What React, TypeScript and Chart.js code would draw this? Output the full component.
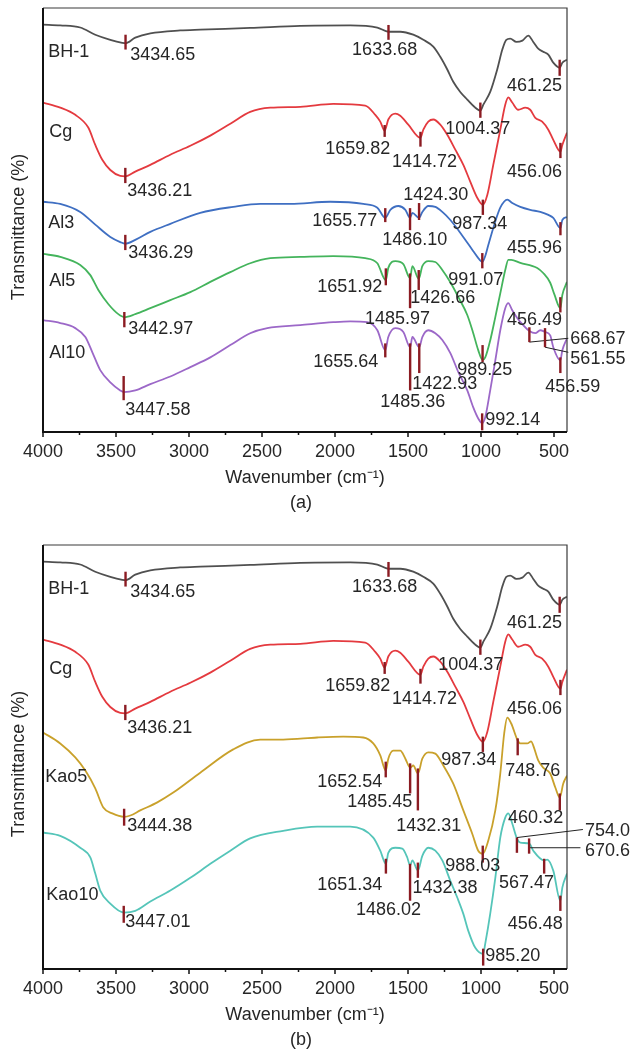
import React, { useEffect, useRef } from 'react';
import { Chart, registerables } from 'chart.js';

Chart.register(...registerables);
Chart.defaults.font.family = '"Liberation Sans", Arial, sans-serif';

// ---------------- axis ----------------
const WN_MAX = 4000;
const WN_MIN = 411;
const WN_MAJOR = [500, 1000, 1500, 2000, 2500, 3000, 3500, 4000];
const WN_MINOR = [750, 1250, 1750, 2250, 2750, 3250, 3750];
const X_TITLE = 'Wavenumber (cm\u207B\u00B9)';
const Y_TITLE = 'Transmittance (%)';

// ---------------- spectra: [wavenumber, transmittance (offset, a.u.)] ----------------
const BH1 = [[4000,96.1],[3882,95.9],[3745,95.4],[3642,93.7],[3539,92.5],[3457,91.8],[3434.65,91.7],[3368,93.0],[3265,94.0],[3060,94.7],[2923,94.9],[2581,95.3],[2238,95.8],[1896,95.9],[1710,95.4],[1633.68,94.4],[1553,94.4],[1464,93.7],[1395,92.5],[1327,90.9],[1279,88.5],[1231,85.5],[1190,82.6],[1142,80.2],[1094,78.4],[1046,76.7],[1004.37,75.8],[984,77.2],[937,80.2],[889,85.5],[854,90.2],[827,92.5],[800,92.8],[758,92.0],[717,92.3],[676,93.5],[642,92.0],[608,90.4],[574,89.7],[539,89.0],[505,87.1],[461.25,85.9],[443,87.1],[411,87.8]];
const CG = [[4000,77.7],[3882,76.5],[3779,74.8],[3690,71.8],[3642,67.7],[3594,64.2],[3539,61.8],[3471,60.4],[3436.21,60.3],[3368,61.4],[3265,63.0],[3128,65.4],[2991,67.5],[2854,69.9],[2717,72.7],[2581,75.5],[2443,76.5],[2238,76.7],[2012,77.4],[1793,77.0],[1724,74.8],[1690,73.2],[1659.82,71.1],[1635,73.7],[1587,75.1],[1553,74.6],[1498,72.5],[1414.72,69.4],[1395,71.3],[1361,73.2],[1327,73.7],[1279,72.5],[1231,70.1],[1176,66.6],[1121,63.0],[1073,59.0],[1025,55.2],[987.34,53.6],[957,55.9],[916,63.0],[868,71.3],[834,77.2],[813,78.9],[786,77.7],[745,76.0],[697,76.5],[663,76.0],[628,74.1],[581,73.2],[539,71.3],[505,68.9],[456.06,66.1],[443,67.7],[411,70.6]];
const AL3 = [[4000,54.3],[3882,53.8],[3745,51.9],[3642,48.9],[3539,46.0],[3471,44.8],[3436.29,44.4],[3368,45.3],[3265,47.2],[3128,49.1],[2923,51.7],[2697,53.1],[2512,53.8],[2306,53.8],[2033,54.3],[1806,53.8],[1710,52.9],[1655.77,50.5],[1621,52.4],[1566,53.3],[1518,52.4],[1486.10,50.5],[1470,51.7],[1424.30,50.5],[1402,51.9],[1361,53.3],[1313,53.1],[1265,51.9],[1210,50.0],[1155,47.6],[1107,45.3],[1060,43.0],[1025,41.3],[991.07,40.1],[971,41.5],[950,44.1],[909,48.9],[868,52.9],[820,54.8],[786,54.0],[731,53.1],[663,52.4],[594,51.9],[539,51.2],[505,50.5],[455.96,48.1],[443,50.0],[411,50.7]];
const AL5 = [[4000,42.0],[3882,41.3],[3745,39.4],[3676,37.0],[3621,33.5],[3553,30.2],[3484,27.8],[3442.97,27.1],[3368,27.8],[3265,29.2],[3128,31.1],[2991,33.0],[2854,35.4],[2717,37.7],[2581,39.8],[2443,41.0],[2238,41.3],[2012,41.5],[1793,41.0],[1710,39.8],[1651.92,35.8],[1635,38.7],[1587,40.3],[1532,39.6],[1485.97,36.3],[1470,39.1],[1426.66,36.1],[1402,39.1],[1361,40.3],[1313,40.1],[1265,38.2],[1210,35.3],[1155,31.8],[1094,27.6],[1053,23.3],[1019,19.3],[989.25,17.0],[971,17.6],[937,21.6],[902,27.1],[868,32.7],[834,38.2],[813,40.6],[793,40.6],[731,39.9],[615,38.7],[574,37.5],[526,35.2],[498,32.5],[456.49,29.2],[443,32.3],[411,35.4]];
const AL10 = [[4000,26.4],[3882,25.7],[3779,24.5],[3710,22.4],[3662,18.8],[3608,14.6],[3539,11.7],[3471,9.8],[3447.58,9.4],[3368,9.8],[3265,11.3],[3128,13.1],[2991,15.3],[2854,17.6],[2717,20.5],[2581,23.3],[2464,24.5],[2238,25.2],[2012,25.9],[1896,26.1],[1779,25.9],[1710,24.0],[1655.64,19.3],[1635,22.4],[1587,24.5],[1532,23.6],[1485.36,20.0],[1470,22.4],[1422.93,20.0],[1402,22.4],[1361,24.0],[1313,23.3],[1265,21.7],[1210,18.6],[1155,14.1],[1094,9.8],[1053,5.8],[1019,3.2],[992.14,2.1],[971,3.5],[937,9.8],[902,16.9],[868,24.0],[834,29.2],[813,30.4],[786,28.7],[752,26.9],[711,25.2],[668.67,23.8],[628,23.3],[594,24.0],[561.55,23.6],[526,22.8],[505,20.0],[456.59,16.9],[443,19.3],[411,22.1]];
const KAO5 = [[4000,55.8],[3882,53.2],[3779,49.9],[3710,46.8],[3642,42.6],[3587,38.1],[3525,36.7],[3444.38,35.9],[3402,36.2],[3334,37.4],[3217,39.3],[3108,41.6],[2923,46.3],[2697,51.8],[2512,54.1],[2355,54.1],[2122,54.6],[1944,54.8],[1806,54.6],[1738,53.2],[1690,50.4],[1652.54,46.8],[1635,49.6],[1601,51.5],[1553,51.5],[1518,49.6],[1485.45,47.5],[1464,48.0],[1432.31,46.1],[1402,49.6],[1361,51.1],[1313,50.8],[1258,48.0],[1190,43.7],[1121,37.4],[1060,31.9],[1019,27.9],[988.03,27.2],[950,30.3],[902,37.4],[868,46.1],[841,55.6],[820,59.3],[793,57.9],[748.76,53.9],[731,53.2],[683,53.2],[656,53.7],[642,52.7],[608,49.2],[574,47.5],[526,46.1],[491,42.8],[460.32,40.4],[437,43.7],[411,45.6]];
const KAO10 = [[4000,32.2],[3882,31.4],[3745,28.6],[3676,26.3],[3642,22.5],[3608,18.5],[3539,15.4],[3447.01,13.3],[3368,13.7],[3265,15.9],[3128,18.5],[2991,21.5],[2854,24.8],[2717,27.9],[2581,30.8],[2355,32.6],[2122,33.6],[1896,33.6],[1738,31.0],[1690,27.9],[1651.34,24.8],[1635,27.4],[1587,28.6],[1539,28.4],[1505,26.3],[1486.02,24.4],[1470,25.6],[1432.38,23.2],[1402,26.7],[1361,28.6],[1313,27.9],[1265,25.6],[1210,20.8],[1162,16.8],[1121,13.0],[1087,9.0],[1039,5.0],[985.20,3.6],[971,6.0],[937,13.0],[902,21.5],[868,31.0],[834,35.7],[813,36.7],[786,34.3],[754,30.8],[731,29.8],[670.6,29.6],[642,27.9],[567.47,25.6],[546,25.8],[505,23.2],[456.48,16.1],[443,19.2],[411,22.5]];

// ---------------- styles ----------------
const COLORS = {
  BH1: '#505050', CG: '#e43a3f', AL3: '#3f6fc2', AL5: '#44b45c', AL10: '#9c68c8',
  KAO5: '#c9a12b', KAO10: '#55c5b9',
};
const MARK_COLOR = '#8b1b22';
const TEXT_COLOR = '#262626';
const FONT = '18px "Liberation Sans", Arial, sans-serif';

// ---------------- annotation layout (peak marks: wn, tick hi/lo, label anchor) ----------------
type Peak = { wn: number; hi: number; lo: number; text: string; tx: number; ty: number; al: CanvasTextAlign; lead?: number[] };
type Name = { text: string; tx: number; ty: number };

const PEAKS_BH1_A: Peak[] = [
  { wn: 3434.65, hi: 93.7, lo: 90.2, text: '3434.65', tx: 3402, ty: 89.0, al: 'left' },
  { wn: 1633.68, hi: 96.0, lo: 92.5, text: '1633.68', tx: 1660, ty: 90.0, al: 'center' },
  { wn: 1004.37, hi: 77.7, lo: 74.1, text: '1004.37', tx: 1022, ty: 71.4, al: 'center' },
  { wn: 461.25, hi: 87.8, lo: 84.0, text: '461.25', tx: 634, ty: 81.5, al: 'center' },
];
const PEAKS_CG_A: Peak[] = [
  { wn: 3436.21, hi: 62.3, lo: 58.7, text: '3436.21', tx: 3423, ty: 56.8, al: 'left' },
  { wn: 1659.82, hi: 72.4, lo: 69.6, text: '1659.82', tx: 1621, ty: 66.7, al: 'right' },
  { wn: 1414.72, hi: 70.8, lo: 67.3, text: '1414.72', tx: 1387, ty: 63.6, al: 'center' },
  { wn: 987.34, hi: 54.8, lo: 51.2, text: '987.34', tx: 1008, ty: 49.0, al: 'center' },
  { wn: 456.06, hi: 68.2, lo: 64.6, text: '456.06', tx: 634, ty: 61.2, al: 'center' },
];
const PEAKS_AL: Peak[] = [
  { wn: 3436.29, hi: 46.5, lo: 42.9, text: '3436.29', tx: 3416, ty: 42.1, al: 'left' },
  { wn: 1655.77, hi: 52.8, lo: 49.5, text: '1655.77', tx: 1710, ty: 49.7, al: 'right' },
  { wn: 1486.10, hi: 52.8, lo: 47.6, text: '1486.10', tx: 1454, ty: 45.3, al: 'center' },
  { wn: 1424.30, hi: 54.0, lo: 50.0, text: '1424.30', tx: 1310, ty: 55.8, al: 'center' },
  { wn: 991.07, hi: 42.2, lo: 38.6, text: '991.07', tx: 1036, ty: 35.8, al: 'center' },
  { wn: 455.96, hi: 49.5, lo: 46.4, text: '455.96', tx: 634, ty: 43.3, al: 'center' },
  { wn: 3442.97, hi: 28.3, lo: 24.7, text: '3442.97', tx: 3416, ty: 24.4, al: 'left' },
  { wn: 1651.92, hi: 38.6, lo: 34.6, text: '1651.92', tx: 1676, ty: 34.1, al: 'right' },
  { wn: 1485.97, hi: 37.4, lo: 29.2, text: '1485.97', tx: 1572, ty: 26.7, al: 'center' },
  { wn: 1426.66, hi: 38.2, lo: 33.5, text: '1426.66', tx: 1262, ty: 31.5, al: 'center' },
  { wn: 989.25, hi: 20.5, lo: 16.5, text: '989.25', tx: 974, ty: 14.7, al: 'center' },
  { wn: 456.49, hi: 31.8, lo: 28.2, text: '456.49', tx: 634, ty: 26.5, al: 'center' },
  { wn: 3447.58, hi: 13.2, lo: 7.5, text: '3447.58', tx: 3436, ty: 5.1, al: 'left' },
  { wn: 1655.64, hi: 20.9, lo: 17.6, text: '1655.64', tx: 1703, ty: 16.5, al: 'right' },
  { wn: 1485.36, hi: 20.9, lo: 9.8, text: '1485.36', tx: 1468, ty: 7.1, al: 'center' },
  { wn: 1422.93, hi: 20.9, lo: 13.9, text: '1422.93', tx: 1248, ty: 11.4, al: 'center' },
  { wn: 992.14, hi: 4.4, lo: 0.4, text: '992.14', tx: 971, ty: 2.8, al: 'left' },
  { wn: 668.67, hi: 24.7, lo: 21.2, text: '668.67', tx: 388, ty: 22.0, al: 'left', lead: [668.67, 21.2, 402, 22.1] },
  { wn: 561.55, hi: 24.5, lo: 20.0, text: '561.55', tx: 388, ty: 17.3, al: 'left', lead: [561.55, 20.0, 402, 18.8] },
  { wn: 456.59, hi: 17.6, lo: 13.9, text: '456.59', tx: 372, ty: 10.7, al: 'center' },
];
const PEAKS_BH1_B: Peak[] = PEAKS_BH1_A.map((p) => (p.wn === 1004.37 ? { ...p, tx: 1070, ty: 71.7 } : p));
const PEAKS_CG_B: Peak[] = PEAKS_CG_A.map((p) => (p.wn === 987.34 ? { ...p, tx: 1084, ty: 49.3 } : p));
const PEAKS_KAO: Peak[] = [
  { wn: 3444.38, hi: 37.8, lo: 33.8, text: '3444.38', tx: 3423, ty: 33.7, al: 'left' },
  { wn: 1652.54, hi: 48.9, lo: 45.2, text: '1652.54', tx: 1676, ty: 44.1, al: 'right' },
  { wn: 1485.45, hi: 48.5, lo: 41.4, text: '1485.45', tx: 1470, ty: 39.4, al: 'right' },
  { wn: 1432.31, hi: 47.3, lo: 37.4, text: '1432.31', tx: 1358, ty: 33.8, al: 'center' },
  { wn: 988.03, hi: 29.1, lo: 25.1, text: '988.03', tx: 1057, ty: 24.3, al: 'center' },
  { wn: 748.76, hi: 54.4, lo: 50.4, text: '748.76', tx: 646, ty: 46.7, al: 'center' },
  { wn: 460.32, hi: 41.4, lo: 37.4, text: '460.32', tx: 626, ty: 35.6, al: 'center' },
  { wn: 3447.01, hi: 14.9, lo: 10.9, text: '3447.01', tx: 3436, ty: 11.0, al: 'left' },
  { wn: 1651.34, hi: 26.0, lo: 22.5, text: '1651.34', tx: 1676, ty: 19.8, al: 'right' },
  { wn: 1486.02, hi: 24.8, lo: 16.1, text: '1486.02', tx: 1633, ty: 13.9, al: 'center' },
  { wn: 1432.38, hi: 25.1, lo: 21.5, text: '1432.38', tx: 1470, ty: 19.1, al: 'left' },
  { wn: 985.20, hi: 4.8, lo: 0.8, text: '985.20', tx: 971, ty: 3.1, al: 'left' },
  { wn: 754.0, hi: 31.0, lo: 27.4, text: '754.0', tx: 288, ty: 32.6, al: 'left', lead: [754.0, 31.0, 302, 32.9] },
  { wn: 670.6, hi: 30.8, lo: 27.2, text: '670.6', tx: 288, ty: 27.9, al: 'left', lead: [670.6, 28.6, 319, 28.6] },
  { wn: 567.47, hi: 26.0, lo: 22.5, text: '567.47', tx: 688, ty: 20.3, al: 'center' },
  { wn: 456.48, hi: 17.3, lo: 13.7, text: '456.48', tx: 628, ty: 10.6, al: 'center' },
];

const NAMES_A: Name[] = [
  { text: 'BH-1', tx: 3964, ty: 89.6 },
  { text: 'Cg', tx: 3957, ty: 70.8 },
  { text: 'Al3', tx: 3964, ty: 49.2 },
  { text: 'Al5', tx: 3957, ty: 35.6 },
  { text: 'Al10', tx: 3957, ty: 18.7 },
];
const NAMES_B: Name[] = [
  { text: 'BH-1', tx: 3964, ty: 89.6 },
  { text: 'Cg', tx: 3957, ty: 70.8 },
  { text: 'Kao5', tx: 3984, ty: 45.3 },
  { text: 'Kao10', tx: 3977, ty: 17.5 },
];

type Series = { name: string; data: number[][]; color: string };
type PanelCfg = { series: Series[]; peaks: Peak[]; names: Name[]; caption: string };

const PANEL_A: PanelCfg = {
  series: [
    { name: 'BH-1', data: BH1, color: COLORS.BH1 },
    { name: 'Cg', data: CG, color: COLORS.CG },
    { name: 'Al3', data: AL3, color: COLORS.AL3 },
    { name: 'Al5', data: AL5, color: COLORS.AL5 },
    { name: 'Al10', data: AL10, color: COLORS.AL10 },
  ],
  peaks: [...PEAKS_BH1_A, ...PEAKS_CG_A, ...PEAKS_AL],
  names: NAMES_A,
  caption: '(a)',
};
const PANEL_B: PanelCfg = {
  series: [
    { name: 'BH-1', data: BH1, color: COLORS.BH1 },
    { name: 'Cg', data: CG, color: COLORS.CG },
    { name: 'Kao5', data: KAO5, color: COLORS.KAO5 },
    { name: 'Kao10', data: KAO10, color: COLORS.KAO10 },
  ],
  peaks: [...PEAKS_BH1_B, ...PEAKS_CG_B, ...PEAKS_KAO],
  names: NAMES_B,
  caption: '(b)',
};

const CANVAS_W = 631;
const CANVAS_H = 513;

function decorPlugin(cfg: PanelCfg) {
  return {
    id: 'decor',
    afterDraw(chart: any) {
      const { ctx, chartArea: ca } = chart;
      const x = chart.scales.x;
      const y = chart.scales.y;
      ctx.save();
      // frame
      ctx.strokeStyle = '#3a3a3a';
      ctx.lineWidth = 1.2;
      ctx.beginPath();
      ctx.moveTo(ca.left, ca.top);
      ctx.lineTo(ca.right, ca.top);
      ctx.lineTo(ca.right, ca.bottom);
      ctx.stroke();
      ctx.strokeStyle = '#111';
      ctx.lineWidth = 2;
      ctx.beginPath();
      ctx.moveTo(ca.left, ca.top);
      ctx.lineTo(ca.left, ca.bottom);
      ctx.lineTo(ca.right, ca.bottom);
      ctx.stroke();
      // axis ticks (outward)
      ctx.lineWidth = 1.5;
      WN_MAJOR.forEach((v) => {
        const px = x.getPixelForValue(v);
        ctx.beginPath();
        ctx.moveTo(px, ca.bottom);
        ctx.lineTo(px, ca.bottom + 5);
        ctx.stroke();
      });
      WN_MINOR.forEach((v) => {
        const px = x.getPixelForValue(v);
        ctx.beginPath();
        ctx.moveTo(px, ca.bottom);
        ctx.lineTo(px, ca.bottom + 3);
        ctx.stroke();
      });
      // leader lines
      ctx.strokeStyle = '#222';
      ctx.lineWidth = 1;
      cfg.peaks.forEach((p) => {
        if (!p.lead) return;
        ctx.beginPath();
        ctx.moveTo(x.getPixelForValue(p.lead[0]), y.getPixelForValue(p.lead[1]));
        ctx.lineTo(x.getPixelForValue(p.lead[2]), y.getPixelForValue(p.lead[3]));
        ctx.stroke();
      });
      // peak marks
      ctx.strokeStyle = MARK_COLOR;
      ctx.lineWidth = 2.4;
      cfg.peaks.forEach((p) => {
        const px = x.getPixelForValue(p.wn);
        ctx.beginPath();
        ctx.moveTo(px, y.getPixelForValue(p.hi));
        ctx.lineTo(px, y.getPixelForValue(p.lo));
        ctx.stroke();
      });
      // labels
      ctx.fillStyle = TEXT_COLOR;
      ctx.font = FONT;
      ctx.textBaseline = 'middle';
      cfg.peaks.forEach((p) => {
        ctx.textAlign = p.al;
        ctx.fillText(p.text, x.getPixelForValue(p.tx), y.getPixelForValue(p.ty));
      });
      ctx.textAlign = 'left';
      cfg.names.forEach((n) => {
        ctx.fillText(n.text, x.getPixelForValue(n.tx), y.getPixelForValue(n.ty));
      });
      // y-axis title
      ctx.save();
      ctx.translate(19, (ca.top + ca.bottom) / 2 + 7);
      ctx.rotate(-Math.PI / 2);
      ctx.textAlign = 'center';
      ctx.fillText(Y_TITLE, 0, 0);
      ctx.restore();
      // caption
      ctx.textAlign = 'center';
      ctx.fillText(cfg.caption, (ca.left + ca.right) / 2 - 4, CANVAS_H - 10);
      ctx.restore();
    },
  };
}

function Panel({ cfg, top }: { cfg: PanelCfg; top: number }) {
  const ref = useRef<HTMLCanvasElement | null>(null);
  useEffect(() => {
    if (!ref.current) return;
    const chart = new Chart(ref.current, {
      type: 'line',
      data: {
        datasets: cfg.series.map((s) => ({
          label: s.name,
          data: s.data.map(([wx, wy]) => ({ x: wx, y: wy })),
          borderColor: s.color,
          backgroundColor: s.color,
          borderWidth: 1.8,
          pointRadius: 0,
          fill: false,
          cubicInterpolationMode: 'monotone',
        })),
      },
      options: {
        animation: false,
        responsive: false,
        devicePixelRatio: 1,
        events: [],
        layout: { padding: { top: 8, left: 0, right: 64, bottom: 0 } },
        plugins: { legend: { display: false }, tooltip: { enabled: false } },
        scales: {
          x: {
            type: 'linear',
            reverse: true,
            min: WN_MIN,
            max: WN_MAX,
            grid: { display: false, drawTicks: false },
            border: { display: false },
            afterBuildTicks: (s: any) => {
              s.ticks = WN_MAJOR.map((v) => ({ value: v }));
            },
            afterFit: (s: any) => {
              s.height = CANVAS_H - 432;
            },
            ticks: {
              autoSkip: false,
              maxRotation: 0,
              padding: 9,
              color: TEXT_COLOR,
              font: { size: 18 },
              callback: (v: any) => String(v),
            },
            title: {
              display: true,
              text: X_TITLE,
              color: TEXT_COLOR,
              font: { size: 18 },
              padding: { top: 0, bottom: 24 },
            },
          },
          y: {
            type: 'linear',
            min: 0,
            max: 100,
            grid: { display: false, drawTicks: false },
            border: { display: false },
            ticks: { display: false },
            afterFit: (s: any) => {
              s.width = 43;
            },
            title: { display: false, text: Y_TITLE },
          },
        },
      } as any,
      plugins: [decorPlugin(cfg)],
    });
    return () => chart.destroy();
  }, [cfg]);
  return (
    <canvas
      ref={ref}
      width={CANVAS_W}
      height={CANVAS_H}
      style={{ position: 'absolute', left: 0, top, width: CANVAS_W, height: CANVAS_H, display: 'block' }}
    />
  );
}

export default function App() {
  return (
    <div style={{ position: 'absolute', left: 0, top: 0, width: 631, height: 1050, background: '#fff', overflow: 'hidden' }}>
      <Panel cfg={PANEL_A} top={0} />
      <Panel cfg={PANEL_B} top={537} />
    </div>
  );
}
